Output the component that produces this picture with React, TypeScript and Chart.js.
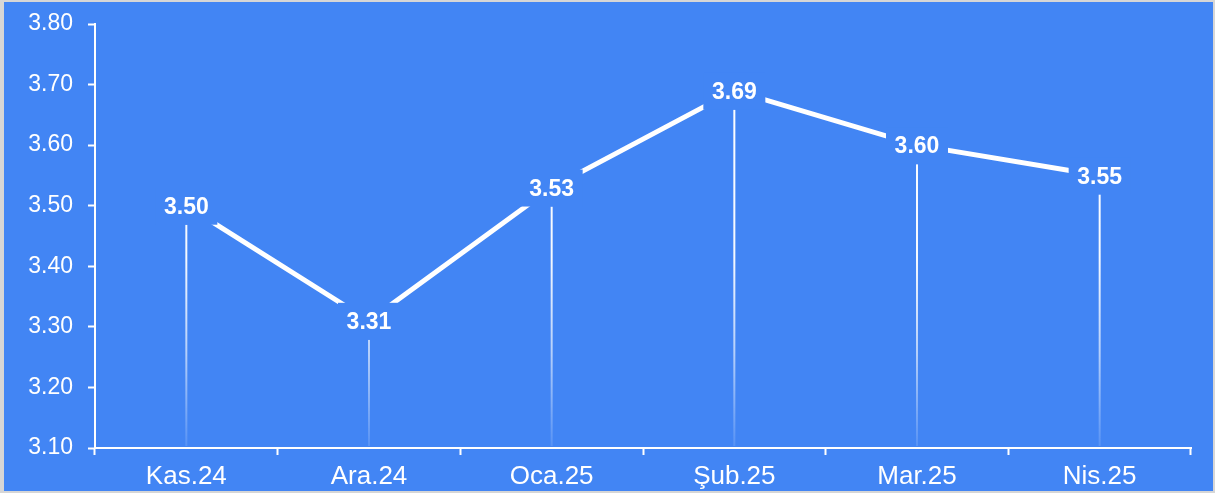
import React, { useEffect, useRef } from "react";
import { Chart, registerables } from "chart.js";

Chart.register(...registerables);

// Monthly series
const categories = ["Kas.24", "Ara.24", "Oca.25", "Şub.25", "Mar.25", "Nis.25"];
const seriesValues = [3.5, 3.31, 3.53, 3.69, 3.6, 3.55];

// Value axis range
const yMin = 3.1;
const yMax = 3.8;
const yStep = 0.1;

const BLUE = "#4285F4";
const FONT = "'Liberation Sans', Arial, sans-serif";

// Vertical drop lines from each point down to the category axis, fading out
const dropLinesPlugin = {
  id: "dropLines",
  beforeDatasetsDraw(chart: any) {
    const { ctx, chartArea } = chart;
    const meta = chart.getDatasetMeta(0);
    const grad = ctx.createLinearGradient(0, chartArea.top, 0, chartArea.bottom);
    grad.addColorStop(0, "rgba(255,255,255,1)");
    grad.addColorStop(0.55, "rgba(255,255,255,0.95)");
    grad.addColorStop(0.78, "rgba(255,255,255,0.6)");
    grad.addColorStop(1, "rgba(255,255,255,0.1)");
    ctx.save();
    ctx.strokeStyle = grad;
    ctx.lineWidth = 2;
    meta.data.forEach((pt: any) => {
      ctx.beginPath();
      ctx.moveTo(pt.x, pt.y + 19);
      ctx.lineTo(pt.x, chartArea.bottom - 2);
      ctx.stroke();
    });
    ctx.restore();
  },
};

// Value labels on a background box that cuts the line around each point
const valueLabelsPlugin = {
  id: "valueLabels",
  afterDatasetsDraw(chart: any) {
    const { ctx } = chart;
    const meta = chart.getDatasetMeta(0);
    const data = chart.data.datasets[0].data as number[];
    ctx.save();
    ctx.font = `bold 23px ${FONT}`;
    ctx.textAlign = "center";
    ctx.textBaseline = "middle";
    meta.data.forEach((pt: any, i: number) => {
      ctx.fillStyle = BLUE;
      ctx.fillRect(pt.x - 31, pt.y - 18, 62, 37);
      ctx.fillStyle = "#ffffff";
      ctx.fillText(data[i].toFixed(2), pt.x, pt.y + 2);
    });
    ctx.restore();
  },
};

export default function App() {
  const canvasRef = useRef<HTMLCanvasElement | null>(null);

  useEffect(() => {
    if (!canvasRef.current) return;
    const chart = new Chart(canvasRef.current, {
      type: "line",
      data: {
        labels: categories,
        datasets: [
          {
            data: seriesValues,
            borderColor: "#ffffff",
            borderWidth: 5,
            pointRadius: 0,
            pointHoverRadius: 0,
            tension: 0,
            fill: false,
          },
        ],
      },
      options: {
        responsive: false,
        animation: false,
        devicePixelRatio: 1,
        layout: { padding: { top: 22, right: 22, left: 0, bottom: 0 } },
        plugins: {
          legend: { display: false },
          tooltip: { enabled: false },
        },
        scales: {
          x: {
            offset: true,
            grid: {
              offset: true,
              drawOnChartArea: false,
              drawTicks: true,
              tickLength: 7,
              tickWidth: 2,
              tickColor: "#ffffff",
            },
            border: { display: true, color: "#ffffff", width: 2 },
            ticks: {
              color: "#ffffff",
              font: { family: FONT, size: 26 },
              padding: 6,
              maxRotation: 0,
            },
            afterFit(scale: any) {
              scale.height = 43;
              scale.paddingLeft = 0;
              scale.paddingRight = 0;
            },
          },
          y: {
            min: yMin,
            max: yMax,
            grid: {
              drawOnChartArea: false,
              drawTicks: true,
              tickLength: 7,
              tickWidth: 2,
              tickColor: "#ffffff",
            },
            border: { display: true, color: "#ffffff", width: 2 },
            ticks: {
              stepSize: yStep,
              color: "#ffffff",
              font: { family: FONT, size: 23 },
              padding: 15,
              callback: (v: any) => Number(v).toFixed(2),
            },
            afterFit(scale: any) {
              scale.width = 91;
              scale.paddingTop = 0;
              scale.paddingBottom = 0;
            },
          },
        },
      },
      plugins: [dropLinesPlugin, valueLabelsPlugin],
    });
    return () => chart.destroy();
  }, []);

  return (
    <div
      style={{
        position: "fixed",
        left: 0,
        top: 0,
        width: 1215,
        height: 493,
        background: "#d6d6d6",
      }}
    >
      <canvas
        ref={canvasRef}
        width={1209}
        height={489}
        style={{
          position: "absolute",
          left: 4,
          top: 2,
          width: 1209,
          height: 489,
          background: BLUE,
          display: "block",
        }}
      />
    </div>
  );
}
